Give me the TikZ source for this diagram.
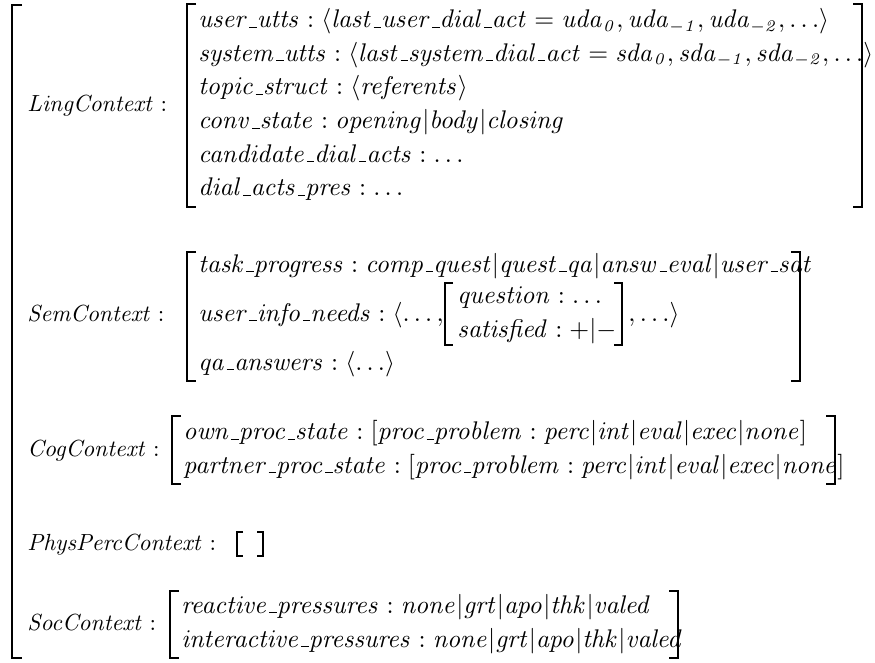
\documentclass[tikz,border=0pt]{standalone}
\usepackage{amsmath}
\renewcommand{\_}{\kern.06em\vbox{\hrule width .3em}}
\newcommand{\w}[1]{\mathit{#1}}
\newcommand{\LBr}[4]{\draw[brk] (#1+#4,#2) -- (#1,#2) -- (#1,#3) -- (#1+#4,#3);}
\newcommand{\RBr}[4]{\draw[brk] (#1-#4,#2) -- (#1,#2) -- (#1,#3) -- (#1-#4,#3);}
\newsavebox{\avmrowbox}
\newsavebox{\avmlabbox}
\newdimen\avmrowfs
\newdimen\avmlabfs
\newcommand{\avmLingB}{$\w{system\_utts} : \langle \w{last\_system\_dial\_act} = \w{sda}_{\w{0}}, \w{sda}_{-\w{1}}, \w{sda}_{-\w{2}}, \ldots\rangle$}
\newcommand{\avmSemA}{$\w{task\_progress} : \w{comp\_quest}|\w{quest\_qa}|\w{answ\_eval}|\w{user\_sat}$}
\newcommand{\avmCogB}{$\w{partner\_proc\_state} : [\w{proc\_problem} : \w{perc}|\w{int}|\w{eval}|\w{exec}|\w{none}]$}
\newcommand{\avmSocB}{$\w{interactive\_pressures} : \w{none}|\w{grt}|\w{apo}|\w{thk}|\w{valed}$}
\newcommand{\avmLabL}{$\w{LingContext} :$}
\newcommand{\avmLabC}{$\w{CogContext} :$}
\newcommand{\avmLabS}{$\w{SocContext} :$}
\begin{document}
\begin{tikzpicture}[x=0.4286pt,y=-0.4286pt,
  txt/.style={anchor=base west, inner sep=0pt, font=\fontsize{\rowfs}{13pt}\selectfont},
  lab/.style={anchor=base west, inner sep=0pt, font=\fontsize{\labfs}{13pt}\selectfont},
  brk/.style={line width=0.7pt, line cap=butt, line join=miter}]
% size the text so that the rows end just before their brackets
\sbox{\avmrowbox}{\fontsize{10pt}{12pt}\selectfont\avmLingB\avmSemA\avmCogB\avmSocB}%
\avmrowfs=\dimexpr 10pt*\numexpr\dimexpr 974.5pt\relax\relax/\numexpr\wd\avmrowbox\relax\relax
\edef\rowfs{\the\avmrowfs}%
\sbox{\avmlabbox}{\fontsize{10pt}{12pt}\selectfont\avmLabL\avmLabC\avmLabS}%
\avmlabfs=\dimexpr 10pt*\numexpr\dimexpr 172.7pt\relax\relax/\numexpr\wd\avmlabbox\relax\relax
\edef\labfs{\the\avmlabfs}%
\useasboundingbox (0,0) rectangle (875,662);
% outer bracket
\LBr{12}{5}{658}{10}
% labels
\node[lab] (lab1) at (27,111) {\avmLabL};
\node[lab] (lab2) at (27,321) {$\w{SemContext} :$};
\node[lab] (lab3) at (27,456) {\avmLabC};
\node[lab] (lab4) at (27,550) {$\w{PhysPercContext} :$};
\node[lab] (lab5) at (27,630) {\avmLabS};
% LingContext
\LBr{187}{4}{207}{9}
\RBr{862}{4}{207}{9}
\node[txt] (l1) at (198,27.5) {$\w{user\_utts} : \langle \w{last\_user\_dial\_act} = \w{uda}_{\w{0}}, \w{uda}_{-\w{1}}, \w{uda}_{-\w{2}}, \ldots\rangle$};
\node[txt] (l2) at (198,61) {\avmLingB};
\node[txt] (l3) at (198,94.5) {$\w{topic\_struct} : \langle \w{referents}\rangle$};
\node[txt] (l4) at (198,128.5) {$\w{conv\_state} : \w{opening}|\w{body}|\w{closing}$};
\node[txt] (l5) at (198,162) {$\w{candidate\_dial\_acts} : \ldots$};
\node[txt] (l6) at (198,195.5) {$\w{dial\_acts\_pres} : \ldots$};
% SemContext
\LBr{187}{252}{381}{9}
\RBr{800}{252}{381}{9}
\node[txt] (s1) at (198,272) {\avmSemA};
\node[txt] (s2) at (198,321) {$\w{user\_info\_needs} : \langle \ldots,$};
\LBr{445}{283}{345}{8}
\RBr{622}{283}{345}{8}
\node[txt] (q1) at (457,303) {$\w{question} : \ldots$};
\node[txt] (q2) at (457,337) {$\w{satisfied} : +|-$};
\node[txt] (s2b) at (628,321) {$,\ldots\rangle$};
\node[txt] (s3) at (198,370) {$\w{qa\_answers} : \langle\ldots\rangle$};
% CogContext
\LBr{172}{416}{484}{9}
\RBr{835}{416}{484}{9}
\node[txt] (c1) at (183,439.5) {$\w{own\_proc\_state} : [\w{proc\_problem} : \w{perc}|\w{int}|\w{eval}|\w{exec}|\w{none}]$};
\node[txt] (c2) at (183,473) {\avmCogB};
% PhysPercContext
\LBr{237}{532}{556}{6}
\RBr{263}{532}{556}{6}
% SocContext
\LBr{170}{591}{658}{9}
\RBr{678}{591}{658}{9}
\node[txt] (o1) at (181,613) {$\w{reactive\_pressures} : \w{none}|\w{grt}|\w{apo}|\w{thk}|\w{valed}$};
\node[txt] (o2) at (181,647) {\avmSocB};
\end{tikzpicture}
\end{document}
